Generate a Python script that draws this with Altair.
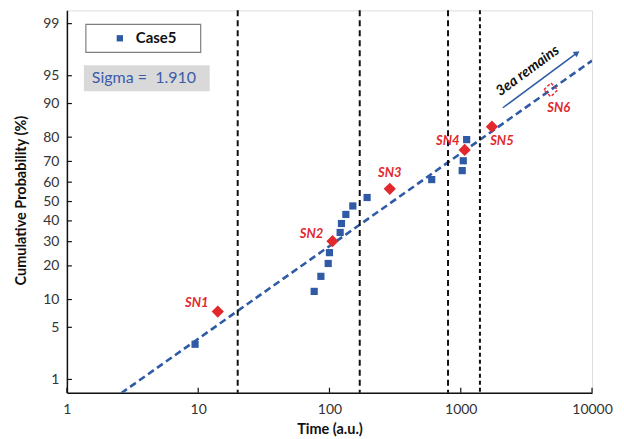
import altair as alt
import pandas as pd
from statistics import NormalDist

_nd = NormalDist()


def probit(p):
    return _nd.inv_cdf(p / 100.0)


# ---------------- data ----------------
case_t = [9.47, 76.5, 86.0, 97.8, 100, 120.6, 123.4, 133.3, 150.6, 193.5, 601, 1026, 1045, 1109]
case_p = [3.1, 12.0, 16.4, 20.9, 25.2, 34.3, 38.7, 43.3, 47.7, 52.1, 61.3, 65.7, 70.3, 79.1]

sn_names = ["SN1", "SN2", "SN3", "SN4", "SN5", "SN6"]
sn_t = [14.1, 105.4, 288, 1071, 1727, 4853]
sn_p = [7.5, 30.2, 56.6, 75.0, 83.6, 92.8]
sn_removed = [False, False, False, False, False, True]

fit_t = [2.59, 10000]
fit_p = [0.61, 96.73]

vline_t = [20, 170, 800]
vline2_t = [1400]

arrow_t = [2094, 7690]
arrow_p = [89.0, 97.4]
arrow_text_t = [3244]
arrow_text_p = [95.6]

y_ticks = [1, 5, 10, 20, 30, 40, 50, 60, 70, 80, 90, 95, 99]
x_ticks = [1, 10, 100, 1000, 10000]

legend_label = "Case5"
sigma_text = "Sigma = \u00a01.910"
arrow_label = "3ea remains"

# label offsets (style)
label_dx = [-21, -21, 0, -17, 10, 8]
label_dy = [-9, -7, -16, -9, 14, 18]

BLUE = "#2f5aa6"
RED = "#e2282d"
FONT = "Lato"
W, H = 526, 383

# ---------------- tables ----------------
case_df = pd.DataFrame({"t": case_t, "z": [probit(p) for p in case_p]})
sn_df = pd.DataFrame({"t": sn_t, "z": [probit(p) for p in sn_p], "name": sn_names, "removed": sn_removed})
fit_df = pd.DataFrame({"t": fit_t, "z": [probit(p) for p in fit_p]})
vl_df = pd.DataFrame({"t": vline_t})
vl2_df = pd.DataFrame({"t": vline2_t})
arrow_df = pd.DataFrame({"t": arrow_t, "z": [probit(p) for p in arrow_p]})
arrow_head_df = arrow_df.iloc[[1]]
arrow_txt_df = pd.DataFrame({"t": arrow_text_t, "z": [probit(p) for p in arrow_text_p], "txt": [arrow_label]})
yt_df = pd.DataFrame({"z": [probit(p) for p in y_ticks]})
xt_df = pd.DataFrame({"t": x_ticks})

xscale = alt.Scale(type="log", domain=[1, 10000], nice=False)
yscale = alt.Scale(domain=[-2.5, 2.5], nice=False, zero=False)

x_axis = alt.Axis(
    values=x_ticks,
    format="d",
    title="Time (a.u.)",
    grid=False,
    ticks=False,
    labelPadding=10,
    labelFont=FONT,
    labelFontSize=14,
    labelColor="#333333",
    labelOverlap=False,
    titleFont=FONT,
    titleFontSize=14.5,
    titleFontWeight="bold",
    titleColor="#111111",
    titleY=37,
    titleBaseline="middle",
    domainColor="#111111",
    domainWidth=1.5,
    labelFlush=False,
)
y_axis = alt.Axis(
    values=[probit(p) for p in y_ticks],
    labelExpr="round(cumulativeNormal(datum.value)*100)",
    title="Cumulative Probability (%)",
    grid=False,
    ticks=False,
    labelPadding=8,
    labelFont=FONT,
    labelFontSize=14,
    labelColor="#333333",
    labelOverlap=False,
    titleFont=FONT,
    titleFontSize=14.5,
    titleFontWeight="bold",
    titleColor="#111111",
    titleX=-45,
    titleY=190,
    titleAngle=270,
    titleAlign="center",
    titleBaseline="middle",
    domainColor="#111111",
    domainWidth=1.5,
    labelFlush=False,
)

X = lambda: alt.X("t:Q", scale=xscale, axis=x_axis)
Y = lambda: alt.Y("z:Q", scale=yscale, axis=y_axis)

fit = alt.Chart(fit_df).mark_line(
    color=BLUE, strokeWidth=2.6, strokeDash=[7, 4], clip=True
).encode(x=X(), y=Y())

vlines = alt.Chart(vl_df).mark_rule(color="#111111", strokeWidth=2, strokeDash=[6, 4]).encode(x=X())
vlines2 = alt.Chart(vl2_df).mark_rule(color="#111111", strokeWidth=2, strokeDash=[4, 3]).encode(x=X())

yticks = alt.Chart(yt_df).mark_rule(color="#111111", strokeWidth=1.2).encode(
    y=Y(), x=alt.value(0), x2=alt.value(5)
)
xticks = alt.Chart(xt_df).mark_rule(color="#111111", strokeWidth=1.2).encode(
    x=X(), y=alt.value(H), y2=alt.value(H - 5)
)

squares = alt.Chart(case_df).mark_point(
    shape="square", filled=True, color=BLUE, size=52, opacity=1
).encode(x=X(), y=Y())

diamonds = alt.Chart(sn_df[~sn_df["removed"]]).mark_point(
    shape="diamond", filled=True, color=RED, size=150, opacity=1
).encode(x=X(), y=Y())

removed = alt.Chart(sn_df[sn_df["removed"]]).mark_point(
    shape="diamond", filled=False, color=RED, size=190, strokeWidth=1.4, strokeDash=[3, 2], opacity=1
).encode(x=X(), y=Y())

labels = []
for i, nm in enumerate(sn_names):
    labels.append(
        alt.Chart(sn_df.iloc[[i]]).mark_text(
            color=RED, font=FONT, fontSize=13, fontWeight="bold", fontStyle="italic",
            dx=label_dx[i], dy=label_dy[i], align="center", baseline="middle",
        ).encode(x=X(), y=Y(), text="name:N")
    )

arrow_line = alt.Chart(arrow_df).mark_line(color=BLUE, strokeWidth=1.5).encode(x=X(), y=Y())
arrow_head = alt.Chart(arrow_head_df).mark_point(
    shape="triangle-right", filled=True, color=BLUE, size=45, angle=323.5, opacity=1
).encode(x=X(), y=Y())
arrow_txt = alt.Chart(arrow_txt_df).mark_text(
    font=FONT, fontSize=14.5, fontWeight="bold", fontStyle="italic", color="#111111",
    angle=323.5, align="center", baseline="middle",
).encode(x=X(), y=Y(), text="txt:N")

# legend box and sigma box
one = pd.DataFrame({"a": [0]})
leg_box = alt.Chart(one).mark_rect(fill="white", stroke="#7f7f7f", strokeWidth=1.2).encode(
    x=alt.value(19), x2=alt.value(134), y=alt.value(14), y2=alt.value(42)
)
leg_sym = alt.Chart(one).mark_point(shape="square", filled=True, color=BLUE, size=40, opacity=1).encode(
    x=alt.value(53), y=alt.value(28)
)
leg_txt = alt.Chart(pd.DataFrame({"s": [legend_label]})).mark_text(
    font=FONT, fontSize=15, fontWeight="bold", color="#111111", align="left", baseline="middle"
).encode(x=alt.value(69), y=alt.value(28), text="s:N")

sig_box = alt.Chart(one).mark_rect(fill="#d9d9d9").encode(
    x=alt.value(17), x2=alt.value(143), y=alt.value(55), y2=alt.value(81)
)
sig_txt = alt.Chart(pd.DataFrame({"s": [sigma_text]})).mark_text(
    font=FONT, fontSize=16, color="#3b5ca8", align="left", baseline="middle"
).encode(x=alt.value(25), y=alt.value(68), text="s:N")

chart = alt.layer(
    fit, vlines, vlines2, yticks, xticks, arrow_line, arrow_head, arrow_txt,
    squares, diamonds, removed, *labels,
    leg_box, leg_sym, leg_txt, sig_box, sig_txt,
).properties(
    width=W,
    height=H,
    autosize=alt.AutoSizeParams(type="none"),
    padding={"left": 59, "top": 2, "right": 24, "bottom": 48},
).configure_view(
    stroke="#595959", strokeWidth=1.5
).configure_axis(
    labelOverlap=False
).configure(background="white")

chart.save("out.html", embed_options={"renderer": "svg", "actions": False})
